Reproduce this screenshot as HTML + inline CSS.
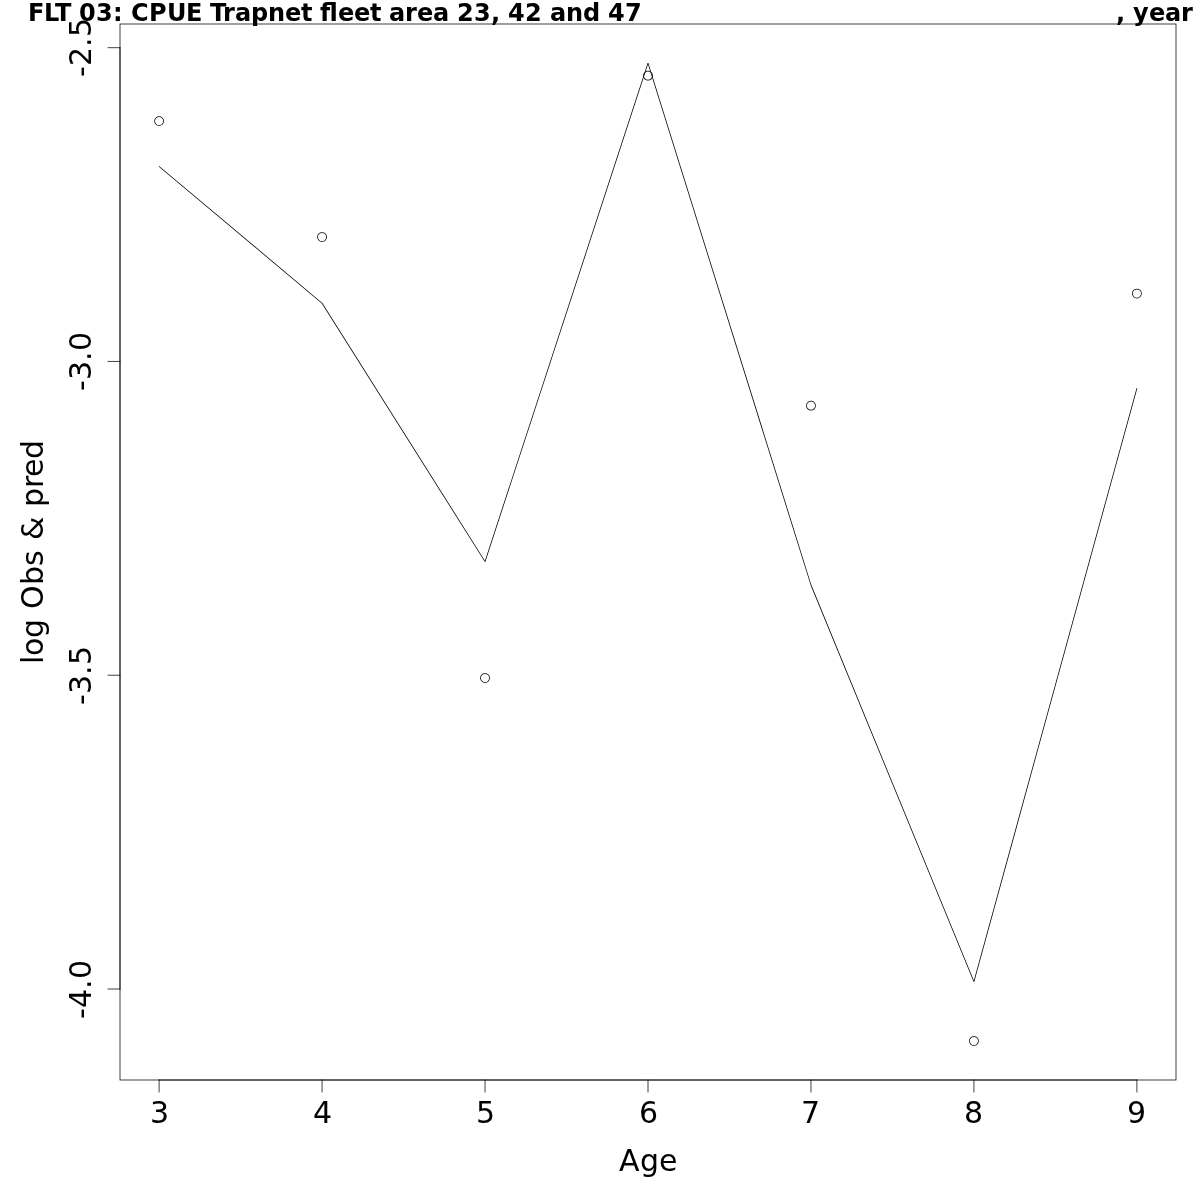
<!DOCTYPE html>
<html>
<head>
<meta charset="utf-8">
<title>FLT 03: CPUE Trapnet fleet area 23, 42 and 47, year</title>
<style>
html,body{margin:0;padding:0;background:#fff;}
body{width:1200px;height:1200px;overflow:hidden;}
svg{display:block;}
text{font-family:"DejaVu Sans","Liberation Sans",sans-serif;fill:#000;}
.ax{font-size:30px;}
.ttl{font-size:24px;font-weight:bold;}
</style>
</head>
<body>
<svg width="1200" height="1200" viewBox="0 0 1200 1200">
<rect x="0" y="0" width="1200" height="1200" fill="#fff"/>
<!-- predicted line (0.75px stroke drawn as filled outline) -->
<path fill="#000" fill-rule="nonzero" d="M158.87,166.787L321.833,303.487L322.315,302.913L159.352,166.213zM321.757,303.4L484.72,561.8L485.354,561.4L322.391,303zM485.393,561.717L648.356,63.317L647.644,63.083L484.681,561.483zM647.642,63.312L810.605,585.112L811.321,584.888L648.358,63.088zM810.616,585.142L973.579,981.842L974.273,981.558L811.31,584.858zM974.288,981.799L1137.251,388.399L1136.527,388.201L973.564,981.601zM158.736,166.5a0.375,0.375 0 1,0 0.75,0a0.375,0.375 0 1,0 -0.75,0zM321.699,303.2a0.375,0.375 0 1,0 0.75,0a0.375,0.375 0 1,0 -0.75,0zM484.662,561.6a0.375,0.375 0 1,0 0.75,0a0.375,0.375 0 1,0 -0.75,0zM647.625,63.2a0.375,0.375 0 1,0 0.75,0a0.375,0.375 0 1,0 -0.75,0zM810.588,585a0.375,0.375 0 1,0 0.75,0a0.375,0.375 0 1,0 -0.75,0zM973.551,981.7a0.375,0.375 0 1,0 0.75,0a0.375,0.375 0 1,0 -0.75,0zM1136.514,388.3a0.375,0.375 0 1,0 0.75,0a0.375,0.375 0 1,0 -0.75,0z"/>
<!-- observed points (open circles r=4.5, 0.75px ring) -->
<path fill="#000" fill-rule="evenodd" d="M154.236,121.1a4.875,4.875 0 1,0 9.75,0a4.875,4.875 0 1,0 -9.75,0zM154.986,121.1a4.125,4.125 0 1,0 8.25,0a4.125,4.125 0 1,0 -8.25,0zM317.199,237a4.875,4.875 0 1,0 9.75,0a4.875,4.875 0 1,0 -9.75,0zM317.949,237a4.125,4.125 0 1,0 8.25,0a4.125,4.125 0 1,0 -8.25,0zM480.162,678a4.875,4.875 0 1,0 9.75,0a4.875,4.875 0 1,0 -9.75,0zM480.912,678a4.125,4.125 0 1,0 8.25,0a4.125,4.125 0 1,0 -8.25,0zM643.125,75.7a4.875,4.875 0 1,0 9.75,0a4.875,4.875 0 1,0 -9.75,0zM643.875,75.7a4.125,4.125 0 1,0 8.25,0a4.125,4.125 0 1,0 -8.25,0zM806.088,405.7a4.875,4.875 0 1,0 9.75,0a4.875,4.875 0 1,0 -9.75,0zM806.838,405.7a4.125,4.125 0 1,0 8.25,0a4.125,4.125 0 1,0 -8.25,0zM969.051,1041a4.875,4.875 0 1,0 9.75,0a4.875,4.875 0 1,0 -9.75,0zM969.801,1041a4.125,4.125 0 1,0 8.25,0a4.125,4.125 0 1,0 -8.25,0zM1132.014,293.5a4.875,4.875 0 1,0 9.75,0a4.875,4.875 0 1,0 -9.75,0zM1132.764,293.5a4.125,4.125 0 1,0 8.25,0a4.125,4.125 0 1,0 -8.25,0z"/>
<!-- plot box -->
<rect x="120" y="24" width="1056" height="1056" fill="none" stroke="#000" stroke-width="0.75"/>
<!-- axes + ticks -->
<g stroke="#000" stroke-width="0.75" fill="none" stroke-linecap="round">
<path d="M159.111,1080H1136.889"/>
<path d="M159.111,1080v12M322.074,1080v12M485.037,1080v12M648,1080v12M810.963,1080v12M973.926,1080v12M1136.889,1080v12"/>
<path d="M120,47.7V989"/>
<path d="M120,47.7h-12M120,361.467h-12M120,675.233h-12M120,989h-12"/>
</g>
<g class="ax">
<text x="150" y="1123">3</text>
<text x="313" y="1123">4</text>
<text x="476" y="1123">5</text>
<text x="639" y="1123">6</text>
<text x="801" y="1123">7</text>
<text x="964" y="1123">8</text>
<text x="1127" y="1123">9</text>
<text y="1171" x="619 640 659">Age</text>
<text transform="translate(91,77) rotate(-90)" x="0 11 30 40" y="0">-2.5</text>
<text transform="translate(91,391) rotate(-90)" x="0 11 30 40" y="0">-3.0</text>
<text transform="translate(91,705) rotate(-90)" x="0 11 30 40" y="0">-3.5</text>
<text transform="translate(91,1019) rotate(-90)" x="0 11 30 40" y="0">-4.0</text>
<text transform="translate(43,664) rotate(-90)" x="0 8 26 45 55 79 98 114 124 147 157 176 187 205" y="0">log Obs &amp; pred</text>
</g>
<text class="ttl" y="21"><tspan x="28 44 55 71 79 96 113 123 131 149 167 186 202 210 223 235 251 268 285 301 312">FLT 03: CPUE Trapnet </tspan><tspan x="320">fl</tspan><tspan x="338 354 370 381 389 405 417 433 449 457 474 491 500 508 525 542 550 566 583 600 608 625">eet area 23, 42 and 47</tspan></text>
<text class="ttl" y="21" x="1116 1125 1133 1149 1165 1181">, year</text>
</svg>
</body>
</html>
